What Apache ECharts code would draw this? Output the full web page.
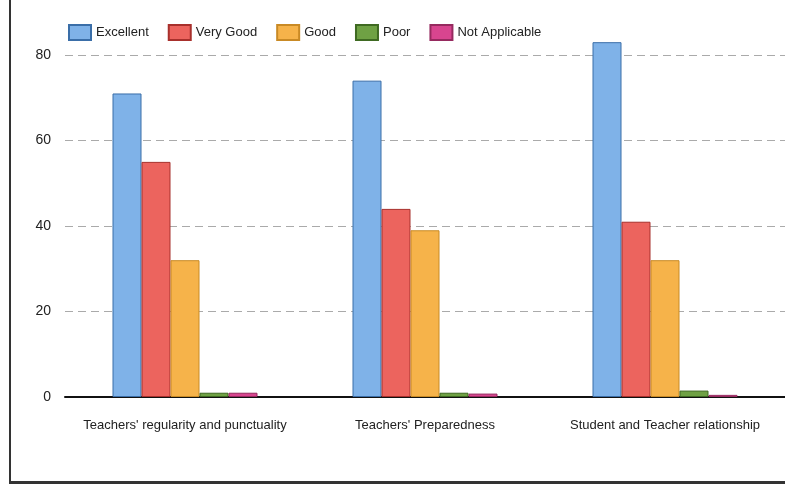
<!DOCTYPE html>
<html><head><meta charset="utf-8">
<script src="https://cdn.jsdelivr.net/npm/echarts@6/dist/echarts.min.js"></script>
<style>
html,body{margin:0;padding:0;background:#fff;}
#frame{position:absolute;left:9px;top:0;width:776px;height:481px;border-left:2px solid #333;border-bottom:3px solid #333;}
#c{position:absolute;left:0;top:0;width:785px;height:486px;}
</style></head>
<body><div id="frame"></div><div id="c"></div>
<script>
const categories = ["Teachers' regularity and punctuality", "Teachers' Preparedness", "Student and Teacher relationship"];
const seriesNames = ["Excellent", "Very Good", "Good", "Poor", "Not Applicable"];
const excellent = [71, 74, 83];
const veryGood = [55, 44, 41];
const good = [32, 39, 32];
const poor = [1, 1, 1.5];
const notApplicable = [1, 0.8, 0.5];
const yTicks = [0, 20, 40, 60, 80];

const colors = ['#7fb2e8', '#ec645e', '#f6b34a', '#6fa144', '#d8458f'];
const borders = ['#3a6ea8', '#a8302c', '#c98a25', '#3f6a22', '#962a5f'];
const values = [excellent, veryGood, good, poor, notApplicable];
const font = "'Liberation Sans', Arial, sans-serif";

const chart = echarts.init(document.getElementById('c'), null, {renderer: 'canvas'});
chart.setOption({
  animation: false,
  textStyle: {fontFamily: font},
  legend: {
    left: 63, top: 19, itemWidth: 22, itemHeight: 15, itemGap: 19,
    icon: 'rect',
    textStyle: {fontFamily: font, fontSize: 13, color: '#222'},
    data: seriesNames
  },
  grid: {left: 65, right: 0, top: 55, bottom: 89},
  xAxis: {
    type: 'category', data: categories,
    axisLine: {lineStyle: {color: '#111', width: 2}},
    axisTick: {show: false},
    axisLabel: {fontFamily: font, fontSize: 13, color: '#222', margin: 22, interval: 0}
  },
  yAxis: {
    type: 'value', min: 0, max: 80, interval: 20,
    axisLine: {show: false}, axisTick: {show: false},
    axisLabel: {fontFamily: font, fontSize: 14, color: '#222', margin: 14,
      formatter: v => yTicks.includes(v) ? String(v) : ''},
    splitLine: {lineStyle: {color: '#aaa', type: [8, 5], width: 1}}
  },
  series: seriesNames.map((n, i) => ({
    name: n, type: 'bar', data: values[i], barWidth: 29, barGap: '0%', clip: false,
    itemStyle: {color: colors[i], borderColor: borders[i], borderWidth: 1}
  }))
});
</script></body></html>
